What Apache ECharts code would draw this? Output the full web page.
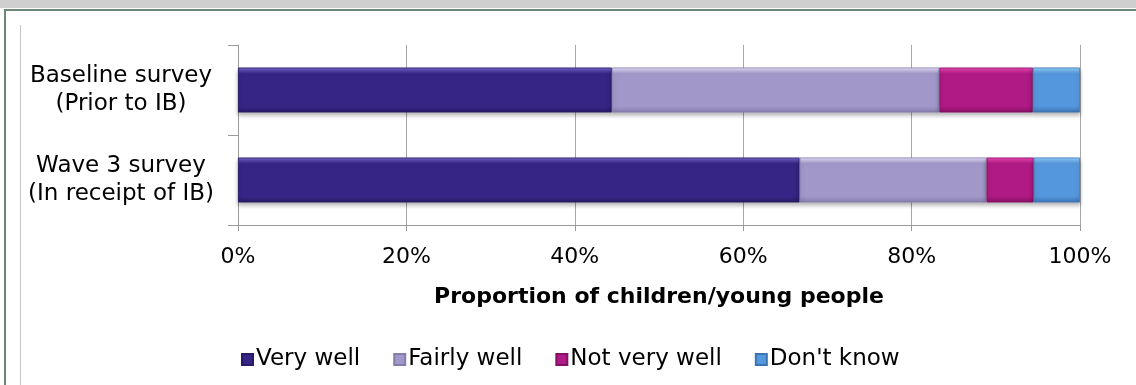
<!DOCTYPE html>
<html>
<head>
<meta charset="utf-8">
<script src="https://cdn.jsdelivr.net/npm/echarts@6/dist/echarts.min.js"></script>
<style>
html,body{margin:0;padding:0;background:#fff;}
#chart{width:1136px;height:385px;}
</style>
</head>
<body>
<div id="chart"></div>
<script>
var categories = ['Baseline survey\n(Prior to IB)', 'Wave 3 survey\n(In receipt of IB)'];
var seriesNames = ['Very well', 'Fairly well', 'Not very well', "Don't know"];
var veryWell = [44.4, 66.7];
var fairlyWell = [38.9, 22.2];
var notVeryWell = [11.1, 5.6];
var dontKnow = [5.6, 5.5];
var tickValues = [0, 20, 40, 60, 80, 100];
var axisTitle = 'Proportion of children/young people';

var FONT = 'DejaVu Sans';
var palette = [
  {base:'#372586', light:'#7566cc', dark:'#281a66'},
  {base:'#a197c9', light:'#e8e2fb', dark:'#877dad'},
  {base:'#b01a85', light:'#ee48b6', dark:'#861066'},
  {base:'#5597dc', light:'#92d2ff', dark:'#3c74b4'}
];
function grad(p){
  return new echarts.graphic.LinearGradient(0,0,0,1,[
    {offset:0, color:p.light},
    {offset:0.14, color:p.base},
    {offset:0.86, color:p.base},
    {offset:1, color:p.dark}
  ]);
}
var dataSets = [veryWell, fairlyWell, notVeryWell, dontKnow];
var series = dataSets.map(function(d,i){
  return {
    name: seriesNames[i],
    type: 'bar',
    stack: 'total',
    barWidth: 45,
    data: d,
    itemStyle: {
      color: grad(palette[i]),
      borderColor: palette[i].dark,
      borderWidth: 0.8,
      shadowColor: 'rgba(0,0,0,0.28)',
      shadowBlur: 4,
      shadowOffsetY: 3
    },
    emphasis: {disabled: true}
  };
});

var chart = echarts.init(document.getElementById('chart'));
chart.setOption({
  animation: false,
  backgroundColor: '#ffffff',
  color: palette.map(function(p){return p.base;}),
  grid: {left: 238, right: 56, top: 45, bottom: 160},
  xAxis: {
    type: 'value',
    min: 0, max: 100, interval: 20,
    axisLine: {show: true, lineStyle: {color: '#9a9a9a', width: 1}},
    axisTick: {show: true, length: 6, lineStyle: {color: '#9a9a9a'}},
    splitLine: {show: true, lineStyle: {color: '#a6a6a6', width: 1}},
    axisLabel: {
      margin: 21,
      fontFamily: FONT, fontSize: 22, color: '#000',
      formatter: function(v){ return tickValues.indexOf(v) >= 0 ? v + '%' : ''; }
    },
    name: axisTitle,
    nameLocation: 'middle',
    nameGap: 61,
    nameTextStyle: {fontFamily: FONT, fontSize: 22, fontWeight: 'bold', color: '#000'}
  },
  yAxis: {
    type: 'category',
    inverse: true,
    data: categories,
    axisLine: {show: true, lineStyle: {color: '#9a9a9a', width: 1}},
    axisTick: {show: true, length: 10, lineStyle: {color: '#9a9a9a'}},
    axisLabel: {
      align: 'center',
      margin: 117,
      fontFamily: FONT, fontSize: 23, color: '#000',
      lineHeight: 28
    }
  },
  legend: {
    data: seriesNames,
    left: 236,
    top: 343,
    icon: 'rect',
    itemWidth: 11,
    itemHeight: 11,
    itemGap: 33,
    textStyle: {fontFamily: FONT, fontSize: 23, color: '#000', padding: [0,0,0,-2]}
  },
  graphic: [
    {type:'rect', left:0, top:0, shape:{width:1136, height:8}, style:{fill:'#cfcfcf'}, silent:true},
    {type:'rect', left:4, top:9, shape:{width:1132, height:2}, style:{fill:'#6b8874'}, silent:true},
    {type:'rect', left:4, top:9, shape:{width:2, height:376}, style:{fill:'#6b8874'}, silent:true},
    {type:'rect', left:20, top:25, shape:{width:1, height:360}, style:{fill:'#c4c4c4'}, silent:true}
  ],
  series: series
});
</script>
</body>
</html>
